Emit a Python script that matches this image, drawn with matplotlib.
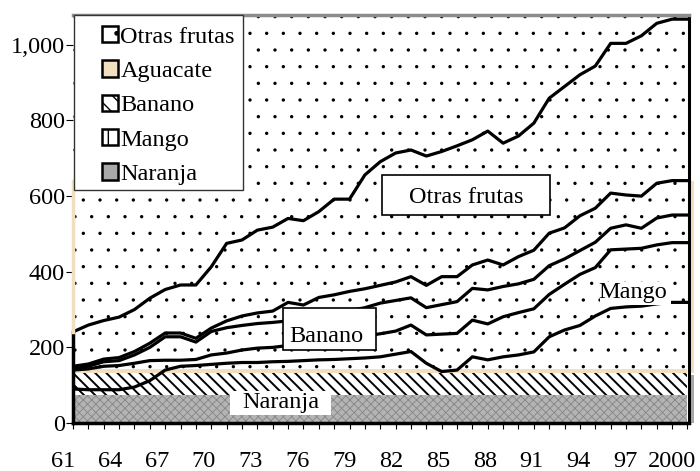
import numpy as np
import matplotlib.pyplot as plt
from matplotlib.patches import Rectangle, Patch

plt.rcParams['font.family'] = ['Liberation Serif', 'DejaVu Serif']

# etiquetas del eje x (41 puntos de datos, 1961-2000)
x_labels = ["61", "64", "67", "70", "73", "76", "79", "82", "85", "88", "91", "94", "97", "2000"]

# lineas acumuladas, de arriba hacia abajo
line_total = [241, 259, 271, 280, 300, 330, 353, 365, 365, 413, 475, 484, 510, 518, 541, 535, 559, 592, 592, 656,
              691, 714, 722, 706, 718, 733, 749, 772, 740, 759, 793, 859, 890, 921, 944, 1004, 1004, 1024, 1057, 1068, 1068]
line_2 = [150, 156, 169, 173, 189, 211, 238, 238, 224, 251, 270, 283, 291, 296, 319, 312, 332, 339, 348, 355,
          364, 373, 387, 364, 387, 387, 418, 431, 418, 440, 457, 502, 516, 548, 568, 608, 603, 600, 634, 641, 641]
line_3 = [145, 150, 162, 165, 180, 200, 228, 228, 214, 242, 252, 258, 263, 266, 270, 276, 283, 290, 297, 305,
          317, 324, 331, 305, 313, 321, 356, 352, 361, 368, 380, 416, 434, 456, 478, 515, 524, 515, 542, 550, 550]
line_4 = [140, 143, 150, 152, 158, 165, 166, 166, 168, 180, 185, 193, 198, 200, 205, 210, 215, 220, 225, 230,
          236, 243, 259, 233, 235, 237, 272, 262, 281, 292, 302, 340, 367, 393, 411, 458, 460, 462, 471, 477, 477]
line_5 = [90, 88, 88, 88, 95, 112, 140, 150, 152, 155, 158, 160, 160, 162, 163, 165, 167, 168, 170, 172,
          175, 182, 189, 158, 136, 140, 175, 167, 175, 180, 188, 228, 246, 258, 283, 303, 307, 309, 315, 319, 319]

# franjas planas de relleno
naranja_top = 75
banano_top = 131
aguacate_top = 143

legend_names = ["Otras frutas", "Aguacate", "Banano", "Mango", "Naranja"]

tan = '#f2dfbf'
fs = 17.5
ytop = 1079

fig = plt.figure(figsize=(7, 4.71), dpi=100)
ax = fig.add_axes([73 / 700, 48 / 471, 616 / 700, 408 / 471])
pos = np.arange(len(line_total))

with plt.rc_context({'hatch.linewidth': 0.6}):
    ax.fill_between(pos, 0, naranja_top, facecolor='#b4b4b4', edgecolor='#858585', hatch='xxxx', linewidth=0)
with plt.rc_context({'hatch.linewidth': 1.4}):
    ax.fill_between(pos, naranja_top, banano_top, facecolor='white', edgecolor='black', hatch='\\\\\\', linewidth=0)
ax.fill_between(pos, banano_top, aguacate_top, facecolor=tan, linewidth=0)
with plt.rc_context({'hatch.linewidth': 0.0}):
    ax.fill_between(pos, aguacate_top, ytop, facecolor='white', edgecolor='black', hatch='.', linewidth=0)

for line in [line_total, line_2, line_3, line_4, line_5]:
    ax.plot(pos, line, color='black', lw=2.3, zorder=3)

# bordes de las areas
ax.plot([0, 0], [0, line_total[0]], color='black', lw=2.5, clip_on=False, zorder=3)
ax.plot([0, 0], [line_total[0], line_2[-1]], color=tan, lw=2.5, clip_on=False, zorder=3)
ax.add_patch(Rectangle((40.1, banano_top), 0.3, line_2[-1] - banano_top, facecolor=tan, lw=0, clip_on=False))
ax.add_patch(Rectangle((40.1, 0), 0.3, banano_top - 3, facecolor='#a8a8a8', lw=0, clip_on=False))

# etiquetas dentro del grafico
box_kw = dict(facecolor='white', edgecolor='black', linewidth=1.2, zorder=5)
ax.add_patch(Rectangle((20.13, 550), 10.94, 106, **box_kw))
ax.text(25.6, 582, 'Otras frutas', ha='center', va='baseline', fontsize=fs, zorder=6)
ax.add_patch(Rectangle((13.68, 193), 6.06, 111, **box_kw))
ax.text(16.5, 215, 'Banano', ha='center', va='baseline', fontsize=fs, zorder=6)
ax.add_patch(Rectangle((10.2, 21), 6.6, 64, facecolor='white', lw=0, zorder=5))
ax.text(13.5, 40, 'Naranja', ha='center', va='baseline', fontsize=fs, zorder=6)
ax.add_patch(Rectangle((34.3, 312), 4.6, 60, facecolor='white', lw=0, zorder=5))
ax.text(36.45, 330, 'Mango', ha='center', va='baseline', fontsize=fs, zorder=6)

ax.set_xlim(0, 40.1)
ax.set_ylim(0, ytop)

# ejes
ax.set_yticks([0, 200, 400, 600, 800, 1000], ['0', '200', '400', '600', '800', '1,000'])
ax.tick_params(axis='y', direction='out', length=5, width=0.8, pad=1, labelsize=fs)
ax.set_xticks([])
ax.set_xticks(pos, minor=True)
ax.tick_params(axis='x', which='minor', direction='out', length=4, width=0.8)
for p, lab in zip(np.linspace(-0.65, 39.0, len(x_labels)), x_labels):
    ax.text(p, -0.108, lab, ha='center', va='baseline', fontsize=fs,
            transform=ax.get_xaxis_transform(), clip_on=False)

ax.spines['left'].set_visible(False)
ax.spines['top'].set_color('#8c8c8c')
ax.spines['top'].set_linewidth(2.5)
ax.spines['right'].set_linewidth(2.2)
ax.spines['bottom'].set_linewidth(2.5)

# leyenda
ax.add_patch(Rectangle((0.0016, 0.571), 0.274, 0.429, transform=ax.transAxes, facecolor='white',
                       edgecolor='#333333', lw=1.0, zorder=7, clip_on=False))
handles = [
    Patch(facecolor='white', edgecolor='black', hatch='.', lw=1.8),
    Patch(facecolor=tan, edgecolor='black', lw=1.8),
    Patch(facecolor='white', edgecolor='black', hatch='\\\\', lw=1.8),
    Patch(facecolor='white', edgecolor='black', hatch='|', lw=1.8),
    Patch(facecolor='#a9a9a9', edgecolor='black', lw=1.8),
]
leg = ax.legend(handles, legend_names, loc='upper left', bbox_to_anchor=(0.047, 0.973), frameon=False,
                fontsize=fs, borderaxespad=0, borderpad=0, labelspacing=0.52, handlelength=0.66,
                handleheight=0.66, handletextpad=0.1)
leg.set_zorder(8)

fig.savefig('out.png', dpi=100)
